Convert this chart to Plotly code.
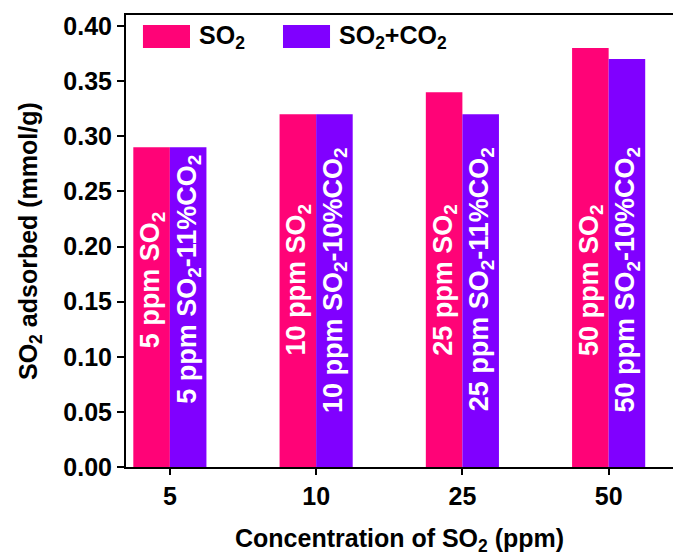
import plotly.graph_objects as go

# SO2 uptake at each inlet concentration, with and without CO2 in the feed
concentrations = ["5", "10", "25", "50"]
so2_only = [0.29, 0.32, 0.34, 0.38]
so2_co2 = [0.29, 0.32, 0.32, 0.37]
so2_labels = ["5 ppm SO<sub>2</sub>", "10 ppm SO<sub>2</sub>",
              "25 ppm SO<sub>2</sub>", "50 ppm SO<sub>2</sub>"]
mix_labels = ["5 ppm SO<sub>2</sub>-11%CO<sub>2</sub>",
              "10 ppm SO<sub>2</sub>-10%CO<sub>2</sub>",
              "25 ppm SO<sub>2</sub>-11%CO<sub>2</sub>",
              "50 ppm SO<sub>2</sub>-10%CO<sub>2</sub>"]
series_names = ["SO<sub>2</sub>", "SO<sub>2</sub>+CO<sub>2</sub>"]
label_level = 0.17

PINK = "#FF0377"
PURPLE = "#8000FF"
FONT = "Liberation Sans, Arial, Helvetica, sans-serif"

positions = list(range(len(concentrations)))
bar_w = 0.25

fig = go.Figure()
fig.add_trace(go.Bar(x=positions, y=so2_only, name=series_names[0],
                     marker=dict(color=PINK, line=dict(width=0)), showlegend=False))
fig.add_trace(go.Bar(x=positions, y=so2_co2, name=series_names[1],
                     marker=dict(color=PURPLE, line=dict(width=0)), showlegend=False))

annotations = []
# vertical labels written inside each bar
for i, (a, b) in enumerate(zip(so2_labels, mix_labels)):
    for txt, dx in ((a, -bar_w / 2), (b, bar_w / 2)):
        annotations.append(dict(
            x=i + dx, y=label_level, xref="x", yref="y", text=txt,
            textangle=-90, showarrow=False,
            font=dict(family=FONT, size=27, color="white", weight="bold"),
        ))

# axis titles
annotations.append(dict(
    x=0.5, y=0, xref="paper", yref="paper", yanchor="middle", yshift=-73,
    text="Concentration of SO<sub>2</sub> (ppm)", showarrow=False,
    font=dict(family=FONT, size=25, color="black", weight="bold"),
))
annotations.append(dict(
    x=0, y=0.5, xref="paper", yref="paper", xanchor="center", xshift=-96,
    text="SO<sub>2</sub> adsorbed (mmol/g)", textangle=-90, showarrow=False,
    font=dict(family=FONT, size=25, color="black", weight="bold"),
))

# legend drawn as swatches with labels along the top of the plot
shapes = []
legend_items = [(0.031, 0.117, PINK, series_names[0]),
                (0.287, 0.373, PURPLE, series_names[1])]
for x0, x1, col, name in legend_items:
    shapes.append(dict(type="rect", xref="paper", yref="paper",
                       x0=x0, x1=x1, y0=0.927, y1=0.978,
                       fillcolor=col, line=dict(width=0)))
    annotations.append(dict(
        x=x1 + 0.013, y=0.951, xref="paper", yref="paper",
        xanchor="left", yanchor="middle", text=name, showarrow=False,
        font=dict(family=FONT, size=25, color="black", weight="bold"),
    ))

fig.update_layout(
    width=673, height=556,
    margin=dict(l=126, r=0, t=15, b=89),
    paper_bgcolor="white", plot_bgcolor="white",
    barmode="group", bargap=0.5, bargroupgap=0,
    annotations=annotations, shapes=shapes,
    font=dict(family=FONT, color="black"),
    xaxis=dict(
        range=[-0.30, 3.44], tickmode="array", tickvals=positions,
        ticktext=concentrations, showgrid=False, zeroline=False,
        showline=True, linecolor="black", linewidth=2, mirror=True,
        ticks="outside", ticklen=6, tickwidth=2, tickcolor="black",
        tickfont=dict(family=FONT, size=25, color="black", weight="bold"),
    ),
    yaxis=dict(
        range=[0, 0.41], tickmode="linear", tick0=0, dtick=0.05,
        tickformat=".2f", showgrid=False, zeroline=False,
        showline=True, linecolor="black", linewidth=2,
        ticks="outside", ticklen=7, tickwidth=2, tickcolor="black",
        tickfont=dict(family=FONT, size=25, color="black", weight="bold"),
    ),
)

fig.write_html("out.html")
